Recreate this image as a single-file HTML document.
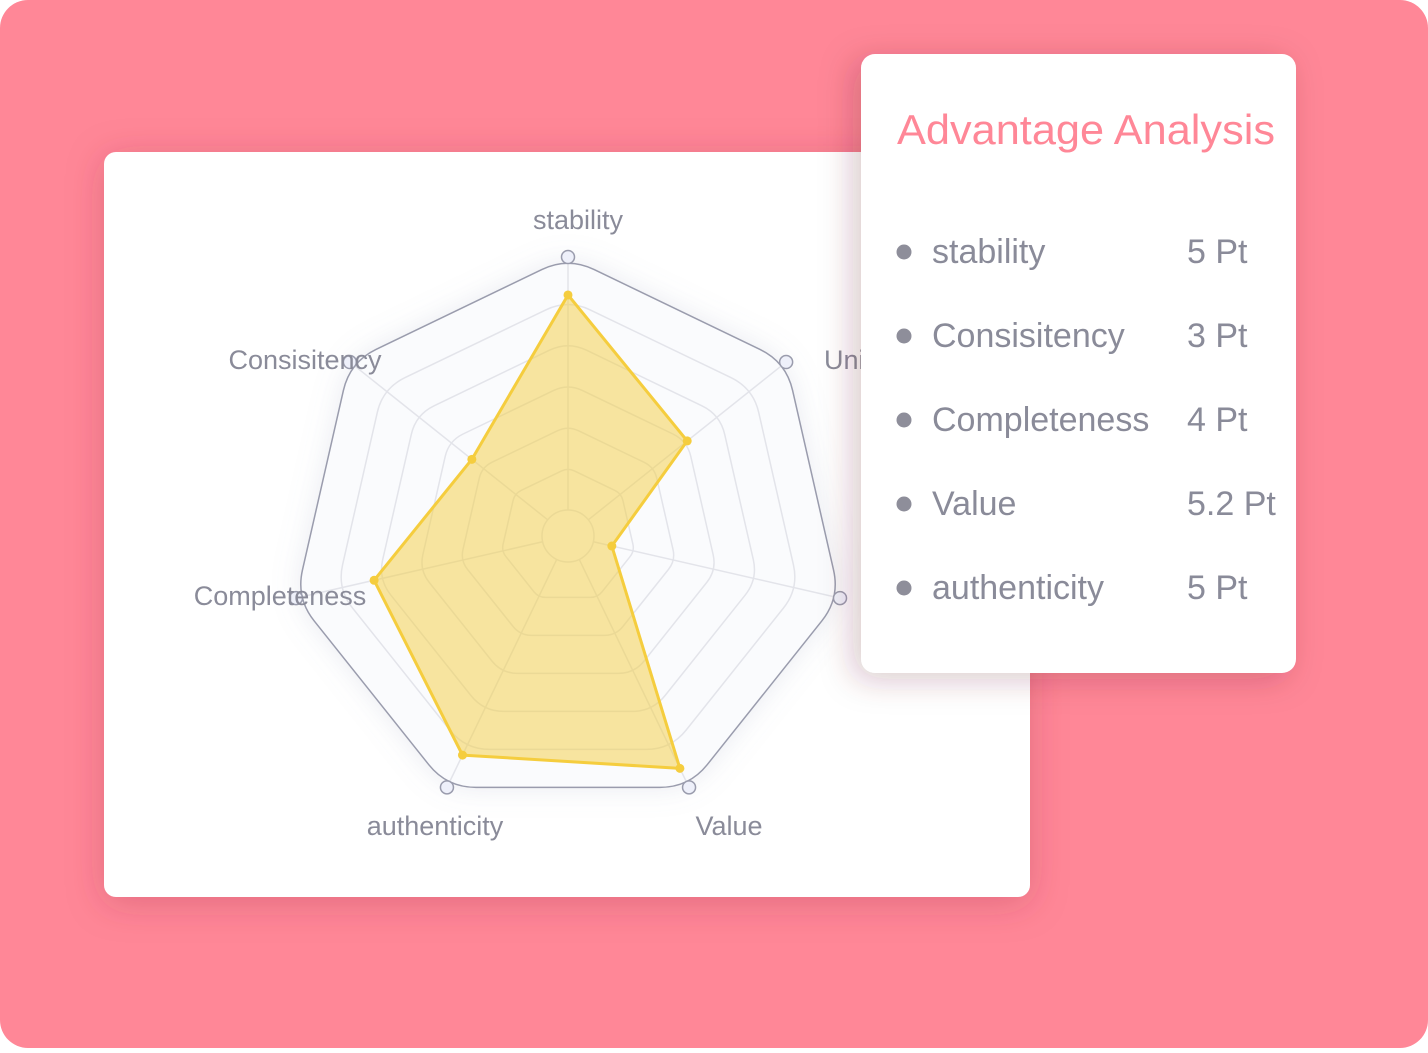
<!DOCTYPE html>
<html><head><meta charset="utf-8"><style>
html,body{margin:0;padding:0;background:#fff;}
body{width:1428px;height:1048px;overflow:hidden;font-family:"Liberation Sans",sans-serif;}
</style></head><body>
<svg id="root" width="1428" height="1048" viewBox="0 0 1428 1048" xmlns="http://www.w3.org/2000/svg">
<defs>
<filter id="sh" x="-20%" y="-20%" width="140%" height="140%"><feDropShadow dx="0" dy="6" stdDeviation="18" flood-color="#a0304a" flood-opacity="0.3"/></filter>
<filter id="sh2" x="-20%" y="-20%" width="140%" height="140%"><feDropShadow dx="-8" dy="6" stdDeviation="16" flood-color="#6a2030" flood-opacity="0.25"/></filter>
<filter id="sh3" x="-20%" y="-20%" width="140%" height="140%"><feDropShadow dx="0" dy="0" stdDeviation="14" flood-color="#8890b0" flood-opacity="0.18"/></filter>
</defs>
<rect x="0" y="0" width="1428" height="1048" rx="28" fill="#ff8797"/>
<rect x="104" y="152" width="926" height="745" rx="12" fill="#fff" filter="url(#sh)"/>
<g id="radar"></g>
<g>
<rect x="861" y="54" width="435" height="619" rx="14" fill="#fff" filter="url(#sh2)"/>
<text x="897" y="144" font-size="42" fill="#ff8797" textLength="378" lengthAdjust="spacingAndGlyphs">Advantage Analysis</text>
<g id="legend"></g>
</g>
</svg>
<script>
const categories=["stability","Uniqueness","Innovation","Value","authenticity","Completeness","Consisitency"];
const seriesValues=[5.1,3.0,0.45,5.5,5.15,4.1,2.3];
const axisMax=6;
const ringTicks=[0,1,2,3,4,5,6];
const legendNames=["stability","Consisitency","Completeness","Value","authenticity"];
const legendValues=["5 Pt","3 Pt","4 Pt","5.2 Pt","5 Pt"];

const NS="http://www.w3.org/2000/svg";
const cx=568,cy=536,R=279,r0=26;
const n=categories.length;
function rScale(v){return r0+(R-r0)*v/axisMax;}
function ang(i){return -Math.PI/2+i*2*Math.PI/n;}
function pt(i,r){return [cx+r*Math.cos(ang(i)),cy+r*Math.sin(ang(i))];}
function mk(tag,attrs,parent){const e=document.createElementNS(NS,tag);for(const k in attrs)e.setAttribute(k,attrs[k]);parent.appendChild(e);return e;}
function roundedPoly(r,f){
  const ps=categories.map((_,i)=>pt(i,r));let d="";
  for(let i=0;i<n;i++){
    const p=ps[i],a=ps[(i-1+n)%n],b=ps[(i+1)%n];
    const s=[p[0]+(a[0]-p[0])*f,p[1]+(a[1]-p[1])*f],e=[p[0]+(b[0]-p[0])*f,p[1]+(b[1]-p[1])*f];
    d+=(i===0?"M":"L")+s[0].toFixed(1)+","+s[1].toFixed(1)+" Q"+p[0].toFixed(1)+","+p[1].toFixed(1)+" "+e[0].toFixed(1)+","+e[1].toFixed(1)+" ";
  }
  return d+"Z";
}
const g=document.getElementById("radar");
const outer=mk("path",{d:roundedPoly(R,0.12),fill:"#fafbfd",stroke:"#9a9cad","stroke-width":1.5,filter:"url(#sh3)"},g);


ringTicks.forEach((t,k)=>{
  if(t===0||t===axisMax)return;
  const ring=mk("path",{d:roundedPoly(rScale(t),0.12),fill:"none",stroke:"#e3e4ea","stroke-width":1.5},g);
  
  
});
categories.forEach((c,i)=>{
  const a=pt(i,r0),b=pt(i,R);
  const sp=mk("line",{x1:a[0],y1:a[1],x2:b[0],y2:b[1],stroke:"#e3e4ea","stroke-width":1.5},g);
  
  
});
const ic=mk("circle",{cx:cx,cy:cy,r:r0,fill:"none",stroke:"#e3e4ea","stroke-width":1.5},g);


const dp=seriesValues.map((v,i)=>pt(i,rScale(v)));
const area=mk("polygon",{points:dp.map(p=>p.join(",")).join(" "),fill:"rgba(244,205,66,0.5)",stroke:"#f5cd3e","stroke-width":3,"stroke-linejoin":"round"},g);


dp.forEach((p,i)=>{
  const c=mk("circle",{cx:p[0],cy:p[1],r:4.5,fill:"#f5cd3e"},g);
  
  
});
categories.forEach((c,i)=>{
  const p=pt(i,R);
  const m=mk("circle",{cx:p[0],cy:p[1],r:6.5,fill:"#eef0fa",stroke:"#9a9cad","stroke-width":1.5},g);
  
  
});
const labelPos=[[578,229,"middle"],[824,369,"start"],[870,608,"start"],[729,835,"middle"],[435,835,"middle"],[280,605,"middle"],[305,369,"middle"]];
categories.forEach((c,i)=>{
  const lp=labelPos[i];
  const t=mk("text",{x:lp[0],y:lp[1],"font-size":27,fill:"#8a8b99","text-anchor":lp[2]},g);
  t.textContent=c;
  
  
});
const lg=document.getElementById("legend");
legendNames.forEach((nm,i)=>{
  const y=263+84*i;
  const d=mk("circle",{cx:904,cy:y-11,r:7.5,fill:"#8e8e9a"},lg);
  
  
  const t=mk("text",{x:932,y:y,"font-size":34,fill:"#8a8b99"},lg);
  t.textContent=nm;
  
  
  const v=mk("text",{x:1187,y:y,"font-size":34,fill:"#8a8b99"},lg);
  v.textContent=legendValues[i];
  
  
});
</script>
</body></html>
